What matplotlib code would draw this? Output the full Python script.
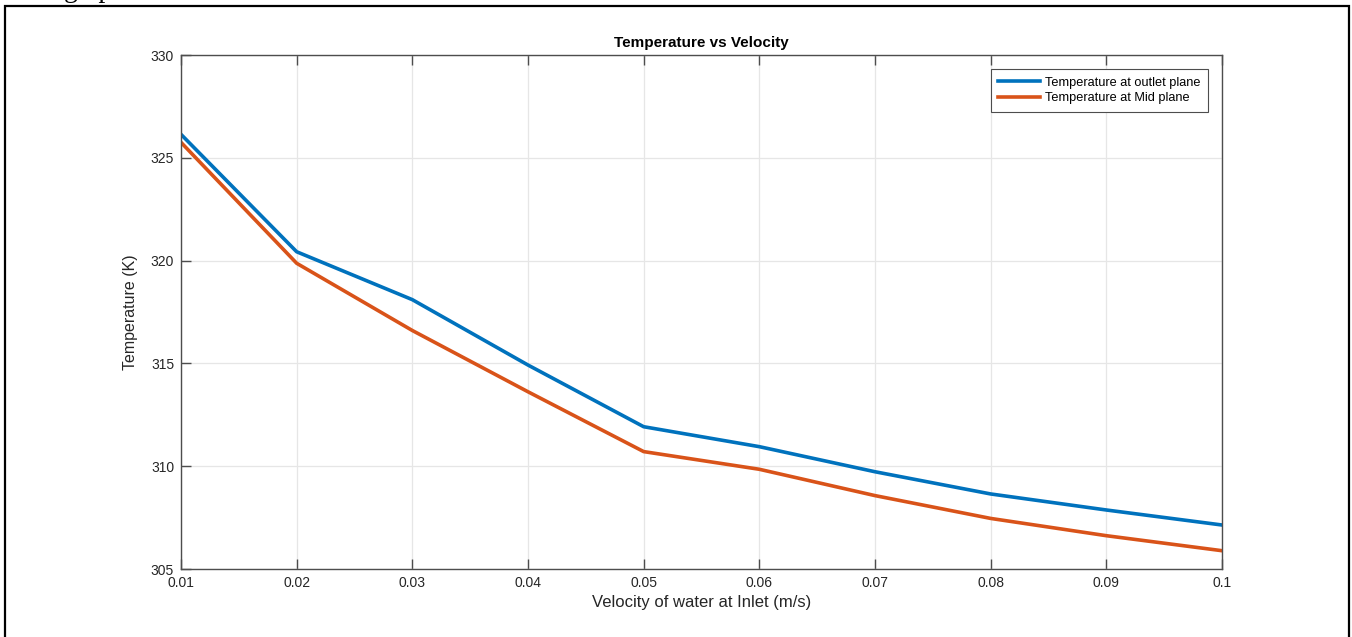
import matplotlib
matplotlib.use("Agg")
import matplotlib.pyplot as plt
from matplotlib.patches import Rectangle

# values
velocity = [0.01, 0.02, 0.03, 0.04, 0.05, 0.06, 0.07, 0.08, 0.09, 0.10]
temp_outlet = [326.14, 320.43, 318.1, 314.92, 311.92, 310.95, 309.73, 308.65, 307.87, 307.14]
temp_mid = [325.75, 319.87, 316.6, 313.62, 310.71, 309.85, 308.57, 307.46, 306.62, 305.89]
x_ticks = [0.01, 0.02, 0.03, 0.04, 0.05, 0.06, 0.07, 0.08, 0.09, 0.1]
x_tick_labels = ["0.01", "0.02", "0.03", "0.04", "0.05", "0.06", "0.07", "0.08", "0.09", "0.1"]
y_ticks = [305, 310, 315, 320, 325, 330]

plt.rcParams["font.family"] = ["Liberation Sans", "DejaVu Sans"]

W, H = 1352, 637
fig = plt.figure(figsize=(W / 100, H / 100), dpi=100)
ax = fig.add_axes([181 / W, 1 - 569 / H, (1222 - 181) / W, (569 - 55) / H])

ax.plot(velocity, temp_outlet, color="#0072BD", lw=2.6, label="Temperature at outlet plane")
ax.plot(velocity, temp_mid, color="#D95319", lw=2.6, label="Temperature at Mid plane")

ax.set_xlim(0.01, 0.1)
ax.set_ylim(305, 330)
ax.set_xticks(x_ticks)
ax.set_xticklabels(x_tick_labels)
ax.set_yticks(y_ticks)

ax.grid(True, color="#e6e6e6", lw=0.9)
ax.set_axisbelow(True)
for sp in ax.spines.values():
    sp.set_color("#4d4d4d")
    sp.set_linewidth(1.0)
ax.tick_params(direction="in", length=7, width=1.0, colors="#4d4d4d",
               labelcolor="#262626", labelsize=10, top=True, right=False, pad=5)

ax.set_title("Temperature vs Velocity", fontsize=11, fontweight="bold", pad=6)
ax.set_xlabel("Velocity of water at Inlet (m/s)", fontsize=12, color="#262626", labelpad=4)
ax.set_ylabel("Temperature (K)", fontsize=11.5, color="#262626", labelpad=9)

leg = ax.legend(loc="upper right", fontsize=9.2, fancybox=False, framealpha=1,
                edgecolor="#4d4d4d", handlelength=3.3, handletextpad=0.35,
                borderpad=0.6, labelspacing=0.3, borderaxespad=0,
                bbox_to_anchor=(1 - 14 / 1041, 1 - 14 / 514))
leg.get_frame().set_linewidth(0.8)

# page frame around the figure and the cut-off line of text above it
fig.patches.append(Rectangle((5 / W, -0.05), (1349 - 5) / W, 1.05 - 6 / H,
                             transform=fig.transFigure, fill=False,
                             edgecolor="black", lw=1.6))
fig.text(64 / W, 1 + 3 / H, "graph", family=["Liberation Serif", "DejaVu Serif"],
         fontsize=20, va="baseline", ha="left")

fig.savefig("out.png", dpi=100)
